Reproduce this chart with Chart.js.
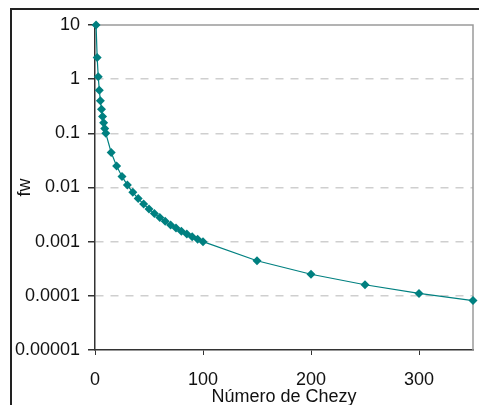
<!DOCTYPE html>
<html>
<head>
<meta charset="utf-8">
<script src="https://cdn.jsdelivr.net/npm/chart.js@4/dist/chart.umd.min.js"></script>
<style>
  html, body { margin: 0; padding: 0; background: #fff; overflow: hidden; }
  #wrap { position: relative; width: 479px; height: 405px; }
  #frame { position: absolute; left: 10px; top: 8px; width: 520px; height: 450px; border: 2px solid #222; box-sizing: border-box; }
  #chart { position: absolute; left: 0; top: 0; }
</style>
</head>
<body>
<div id="wrap">
  <div id="frame"></div>
  <canvas id="chart" width="479" height="405"></canvas>
</div>
<script>
// Chezy number vs friction factor fw
var chezy = [1, 2, 3, 4, 5, 6, 7, 8, 9, 10, 15, 20, 25, 30, 35, 40, 45, 50, 55, 60,
  65, 70, 75, 80, 85, 90, 95, 100, 150, 200, 250, 300, 350];
var fw = [10, 2.5, 1.11, 0.625, 0.4, 0.278, 0.204, 0.156, 0.123, 0.1, 0.0444, 0.025,
  0.016, 0.0111, 0.00816, 0.00625, 0.00494, 0.004, 0.00331, 0.00278, 0.00237, 0.00204,
  0.00178, 0.00156, 0.00138, 0.00123, 0.00111, 0.001, 0.000444, 0.00025, 0.00016,
  0.000111, 0.0000816];
var yTicks = [10, 1, 0.1, 0.01, 0.001, 0.0001, 0.00001];
var yTickLabels = ['10', '1', '0.1', '0.01', '0.001', '0.0001', '0.00001'];
var xTicks = [0, 100, 200, 300];

var teal = '#008080';
var font = { family: '"Liberation Sans", Arial, sans-serif', size: 18 };

var points = chezy.map(function(c, i) { return { x: c, y: fw[i] }; });

// gray top/right edges of the plot area
var plotEdges = {
  id: 'plotEdges',
  beforeDatasetsDraw: function(chart) {
    var a = chart.chartArea, ctx = chart.ctx;
    ctx.save();
    ctx.strokeStyle = '#9a9a9a';
    ctx.lineWidth = 1.5;
    ctx.beginPath();
    ctx.moveTo(a.left, a.top);
    ctx.lineTo(a.right, a.top);
    ctx.lineTo(a.right, a.bottom);
    ctx.stroke();
    ctx.restore();
  }
};

new Chart(document.getElementById('chart'), {
  type: 'scatter',
  data: {
    datasets: [{
      data: points,
      showLine: true,
      borderColor: teal,
      borderWidth: 1.2,
      backgroundColor: teal,
      pointStyle: 'rectRot',
      pointRadius: 4.5,
      pointBorderWidth: 0,
      pointBackgroundColor: teal
    }]
  },
  options: {
    responsive: false,
    animation: false,
    clip: false,
    layout: { padding: { left: 0, right: 6, top: 25, bottom: 0 } },
    plugins: { legend: { display: false }, tooltip: { enabled: false } },
    scales: {
      x: {
        type: 'linear',
        min: 0,
        max: 350,
        afterBuildTicks: function(scale) {
          scale.ticks = xTicks.map(function(v) { return { value: v }; });
        },
        afterFit: function(scale) { scale.height = 55; },
        ticks: { color: '#111', font: font, padding: 14, maxRotation: 0 },
        grid: { drawOnChartArea: false, drawTicks: true, tickLength: 5, tickColor: '#333' },
        border: { color: '#333', width: 1.5 },
        title: { display: true, text: 'Número de Chezy', color: '#111', font: font, padding: { top: 0, bottom: -3 } }
      },
      y: {
        type: 'logarithmic',
        min: 0.00001,
        max: 10,
        afterBuildTicks: function(scale) {
          scale.ticks = yTicks.map(function(v) { return { value: v }; });
        },
        afterFit: function(scale) { scale.width = 95; },
        ticks: {
          color: '#111',
          font: font,
          padding: 8,
          callback: function(v) {
            var i = yTicks.indexOf(v);
            return i >= 0 ? yTickLabels[i] : '';
          }
        },
        grid: {
          drawTicks: true,
          tickLength: 7,
          tickColor: '#333',
          tickBorderDash: [],
          color: function(ctx) {
            var v = ctx.tick && ctx.tick.value;
            return (v === 10 || v === 0.00001) ? 'rgba(0,0,0,0)' : '#cfcfcf';
          },
          lineWidth: 1.5
        },
        border: { color: '#333', width: 1.5, dash: [8, 7] },
        title: { display: true, text: 'fw', color: '#111', font: font, padding: { top: 14, bottom: 0 } }
      }
    }
  },
  plugins: [plotEdges]
});
</script>
</body>
</html>
